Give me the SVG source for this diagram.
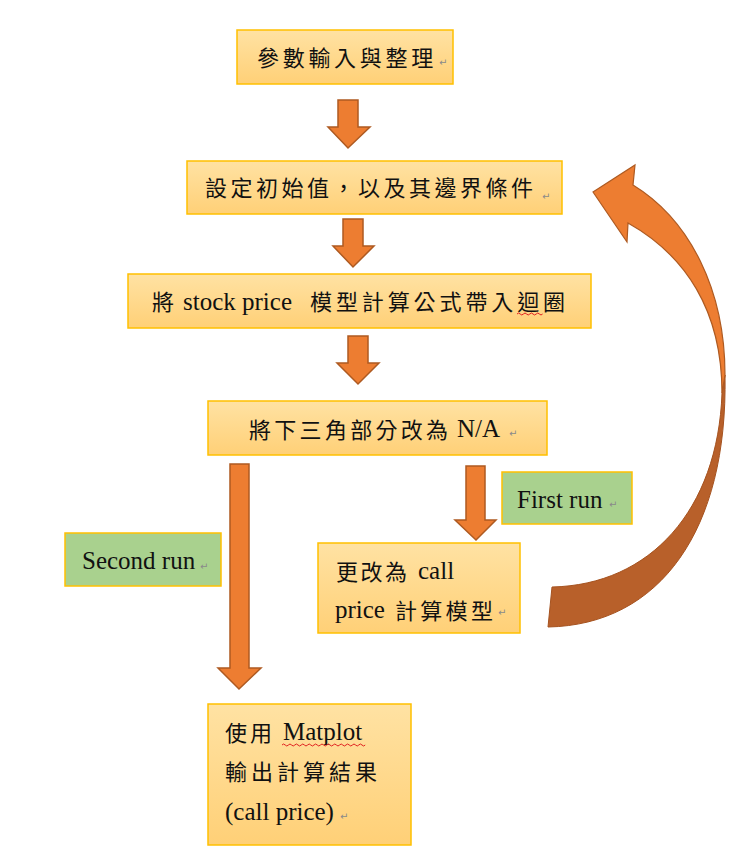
<svg xmlns="http://www.w3.org/2000/svg" width="749" height="863" viewBox="0 0 749 863">
<defs>
<linearGradient id="boxg" x1="0" y1="0" x2="0" y2="1">
<stop offset="0" stop-color="#FFE2A3"/>
<stop offset="1" stop-color="#FFD077"/>
</linearGradient>
<style>
.box{fill:url(#boxg);stroke:#FFC000;stroke-width:1.5}
.gbox{fill:#A9D18E;stroke:#FFC000;stroke-width:1.5}
.cjk{font-family:"Noto Sans CJK TC","Noto Sans CJK SC",sans-serif;font-size:22px;fill:#111}
.lat{font-family:"Liberation Serif","Times New Roman",serif;font-size:25px;fill:#111}
.pm{font-family:"DejaVu Sans",sans-serif;font-size:10px;fill:#8a8a8a}
.arr{fill:#ED7D31;stroke:#AE5A21;stroke-width:1.5;stroke-linejoin:miter}
.wavy{fill:none;stroke:#E02020;stroke-width:1}
</style>
</defs>
<rect width="749" height="863" fill="#fff"/>

<g id="connectors">
<polygon class="arr" points="338,100 358,100 358,127 370,127 348,148 328,127 338,127"/>
<polygon class="arr" points="343,219 363,219 363,246 374,246 353,267 333,246 343,246"/>
<polygon class="arr" points="348,336 368,336 368,363 379,363 358,384 337,363 348,363"/>
<polygon class="arr" points="230,464 249,464 249,668 261,668 239,689 218,668 230,668"/>
<polygon class="arr" points="466,466 485,466 485,520 496,520 476,540 455,520 466,520"/>
<g id="loop-arrow">
<path d="M548,627 C660,625 728,530 725,375 L722,393 C718,510 650,585 552,587 Z" fill="#B8602A" stroke="#A5521F" stroke-width="1"/>
<path d="M593,192 L635,165 L633,185 C690,220 725,290 725,375 L722,393 C722,310 685,255 628,223 L627,242 Z" fill="#ED7D31" stroke="#AE5A21" stroke-width="1.2" stroke-linejoin="miter"/>
</g>
</g>

<g id="node1">
<rect class="box" x="237" y="30" width="216" height="54"/>
<text class="cjk" x="257" y="66" letter-spacing="3.7">參數輸入與整理</text>
<text class="pm" x="439" y="66">↵</text>
</g>

<g id="node2">
<rect class="box" x="187" y="161" width="375" height="53"/>
<text class="cjk" x="205" y="196" letter-spacing="3.5">設定初始值，以及其邊界條件</text>
<text class="pm" x="542" y="200">↵</text>
</g>

<g id="node3">
<rect class="box" x="128" y="274" width="463" height="54"/>
<text class="cjk" x="152" y="310">將</text>
<text class="lat" x="183" y="310">stock price</text>
<text class="cjk" x="310" y="310" letter-spacing="3.9">模型計算公式帶入迴圈</text>
<path class="wavy" d="M517,314 q1.6,-2 3.2,0 t3.2,0 t3.2,0 t3.2,0 t3.2,0 t3.2,0 t3.2,0 t3.2,0"/>
</g>

<g id="node4">
<rect class="box" x="208" y="401" width="339" height="54"/>
<text class="cjk" x="249" y="438" letter-spacing="3.3">將下三角部分改為</text>
<text class="lat" x="457" y="437">N/A</text>
<text class="pm" x="509" y="437">↵</text>
</g>

<g id="label-first">
<rect class="gbox" x="502" y="472" width="130" height="52"/>
<text class="lat" x="517" y="508" font-size="25.5">First run</text>
<text class="pm" x="609" y="508">↵</text>
</g>

<g id="label-second">
<rect class="gbox" x="65" y="533" width="156" height="53"/>
<text class="lat" x="82" y="569" font-size="25.5">Second run</text>
<text class="pm" x="200" y="570">↵</text>
</g>

<g id="node5">
<rect class="box" x="318" y="543" width="202" height="90"/>
<text class="cjk" x="336" y="580" letter-spacing="2.5">更改為</text>
<text class="lat" x="418" y="579">call</text>
<text class="lat" x="335" y="618">price</text>
<text class="cjk" x="395" y="619" letter-spacing="3.3">計算模型</text>
<text class="pm" x="498" y="616">↵</text>
</g>

<g id="node6">
<rect class="box" x="208" y="704" width="203" height="141"/>
<text class="cjk" x="225" y="741" letter-spacing="3">使用</text>
<text class="lat" x="283" y="740">Matplot</text>
<path class="wavy" d="M282,745 q1.6,-2 3.2,0 t3.2,0 t3.2,0 t3.2,0 t3.2,0 t3.2,0 t3.2,0 t3.2,0 t3.2,0 t3.2,0 t3.2,0 t3.2,0 t3.2,0 t3.2,0 t3.2,0 t3.2,0 t3.2,0 t3.2,0 t3.2,0 t3.2,0 t3.2,0 t3.2,0 t3.2,0 t3.2,0 t3.2,0 t3.2,0"/>
<text class="cjk" x="225" y="780" letter-spacing="4">輸出計算結果</text>
<text class="lat" x="225" y="820">(call price)</text>
<text class="pm" x="340" y="820">↵</text>
</g>
</svg>
